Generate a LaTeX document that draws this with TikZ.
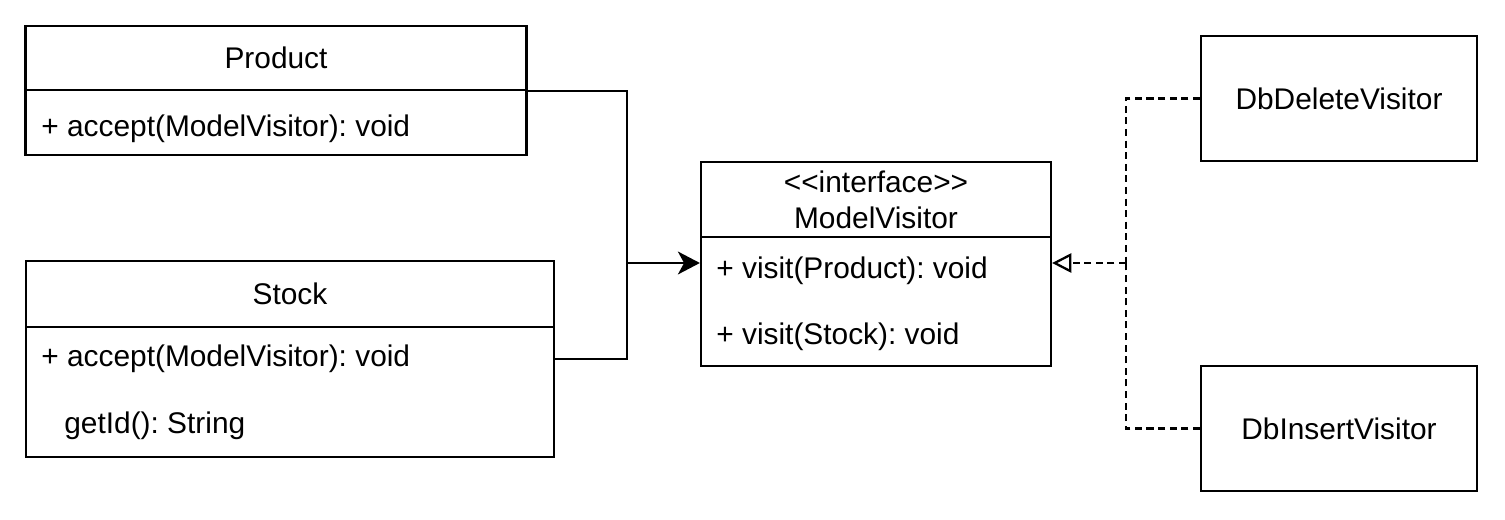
\documentclass[tikz,border=0pt]{standalone}
\usepackage{fontspec}
\setmainfont{Liberation Sans}
\usetikzlibrary{arrows.meta}
\frenchspacing

\begin{document}
\begin{tikzpicture}[x=0.02cm, y=-0.02cm, >=Stealth,
    box/.style={draw, line width=1.3pt, inner sep=0pt, font=\fontsize{17}{20.5}\selectfont},
    member/.style={anchor=west, inner sep=0pt, font=\fontsize{17}{20.5}\selectfont},
    link/.style={line width=1.3pt},
    realize/.style={line width=1.3pt, dash pattern=on 4pt off 2.6pt}]

    \useasboundingbox (0,0) rectangle (1505,520);

    % Product
    \node[box, minimum width=10.02cm, minimum height=1.28cm] (P) at (276,58) {Product};
    \node[box, minimum width=10.02cm, minimum height=1.3cm] (Pb) at (276,122.5) {};
    \node[member] (Pm) at (41,129) {+ accept(ModelVisitor): void};

    % Stock
    \node[box, minimum width=10.56cm, minimum height=1.32cm] (S) at (290,294) {Stock};
    \node[box, minimum width=10.56cm, minimum height=2.6cm] (Sb) at (290,392) {};
    \node[member] (Sm1) at (41,359) {+ accept(ModelVisitor): void};
    \node[member] (Sm2) at (64,426) {getId(): String};

    % ModelVisitor
    \node[box, minimum width=7cm, minimum height=1.5cm, align=center] (M) at (876,199.5) {{<}{<}interface{>}{>}\\ModelVisitor};
    \node[box, minimum width=7cm, minimum height=2.58cm] (Mb) at (876,301.5) {};
    \node[member] (Mm1) at (716,271) {+ visit(Product): void};
    \node[member] (Mm2) at (716,337) {+ visit(Stock): void};

    % visitors
    \node[box, minimum width=5.52cm, minimum height=2.5cm] (D) at (1339,98.5) {DbDeleteVisitor};
    \node[box, minimum width=5.52cm, minimum height=2.5cm] (I) at (1339,428.5) {DbInsertVisitor};

    % Edges
    \coordinate (J) at (627,263);
    \coordinate (K) at (1126,263);
    \draw[link] (P.south east) -| (J);
    \draw[link] (Sm1 -| Sb.east) -| (J);
    \draw[link, ->, >={Stealth[length=12.5pt, width=13pt, inset=3.5pt]}] (J) -- (Mb.west |- J);
    \draw[realize] (D.west) -| (K);
    \draw[realize] (I.west) -| (K);
    \draw[realize, -{Triangle[open, length=11pt, width=11pt]}] (K) -- (Mb.east |- K);

\end{tikzpicture}
\end{document}
